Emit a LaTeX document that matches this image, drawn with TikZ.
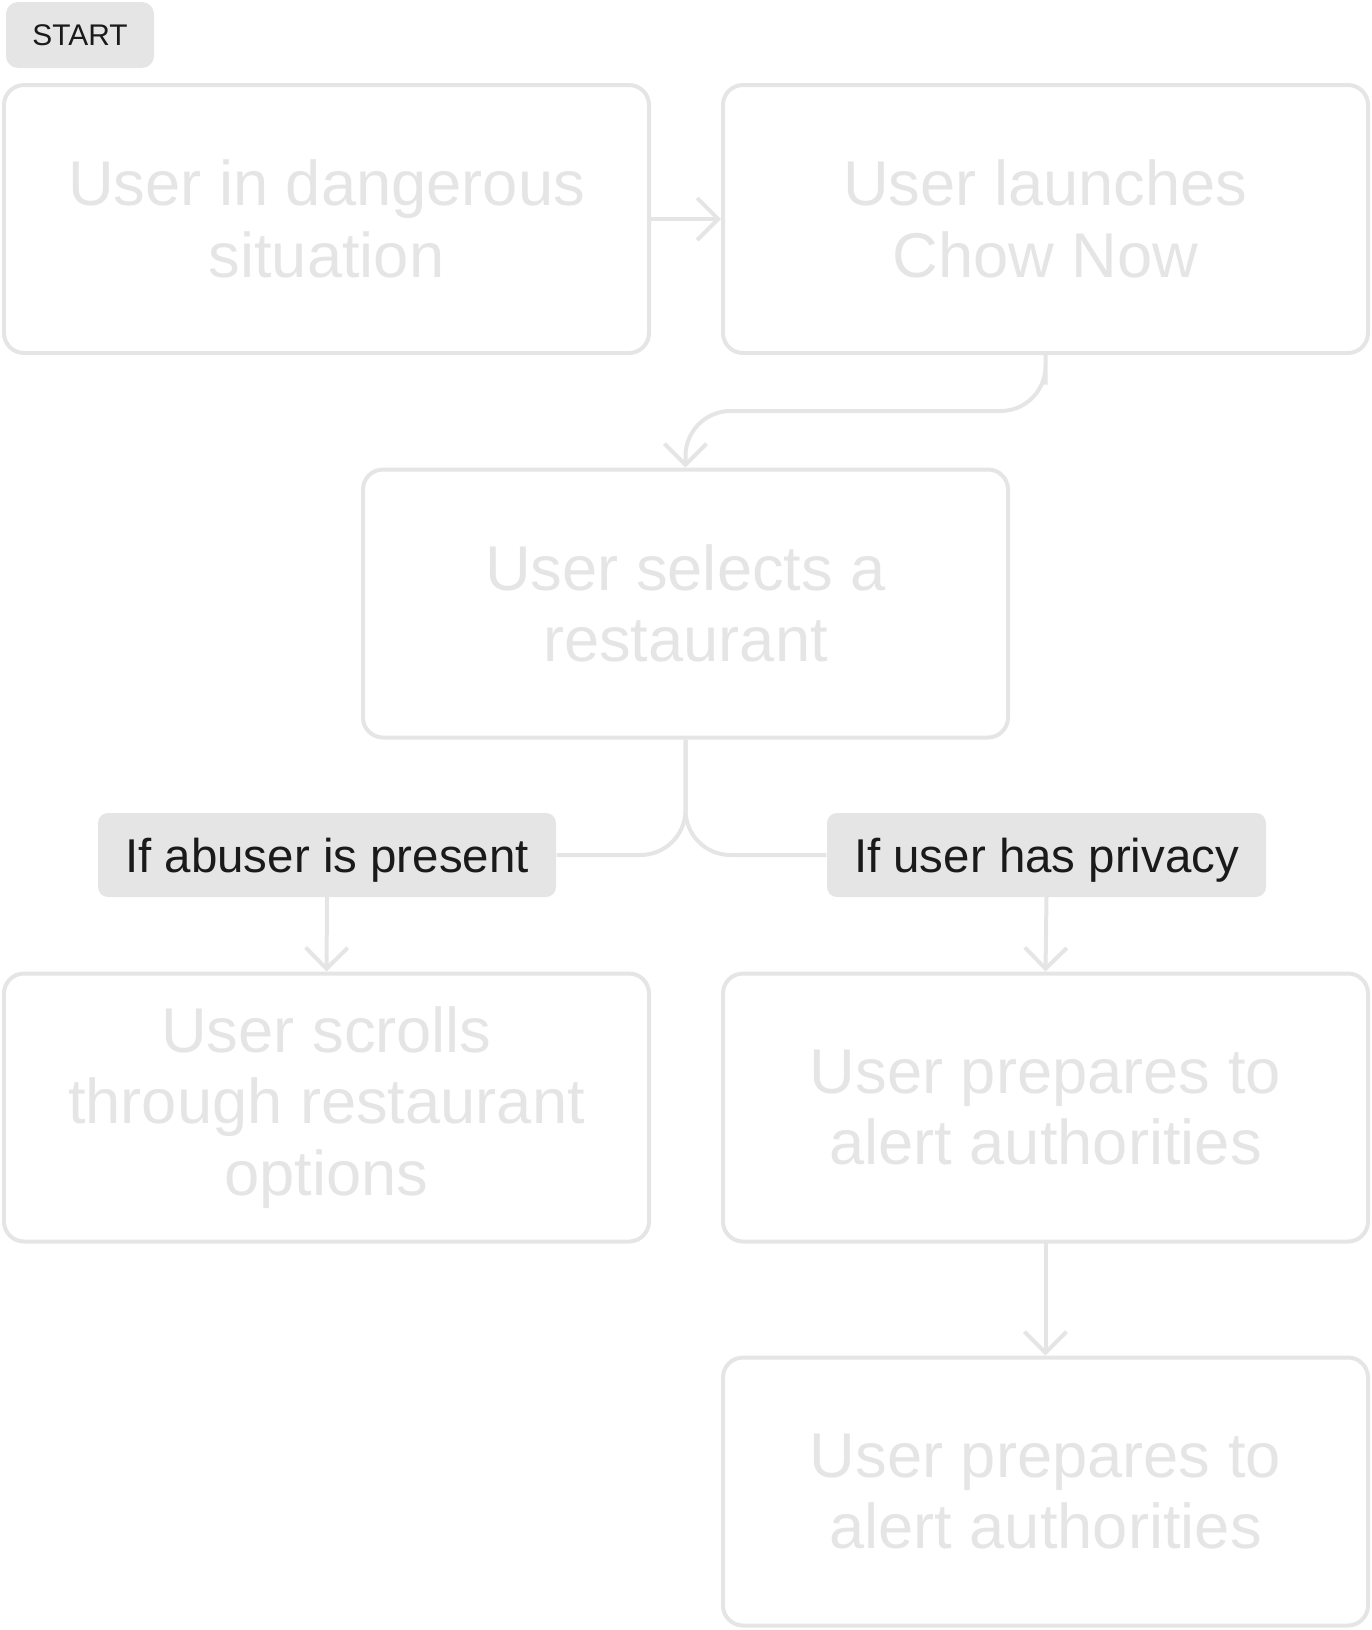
\documentclass[tikz,border=0pt]{standalone}
\usepackage{fontspec}
\setmainfont{Liberation Sans}
\usetikzlibrary{arrows.meta}
\definecolor{faint}{RGB}{229,229,229}
\definecolor{ink}{RGB}{26,26,26}

\begin{document}
\begin{tikzpicture}[
  box/.style={draw=faint, line width=0.04cm, rounded corners=0.2cm, minimum width=6.45cm, minimum height=2.68cm, align=center, text=faint, font=\fontsize{18}{20.3}\selectfont},
  cond/.style={fill=faint, rounded corners=0.1cm, minimum height=0.84cm, text depth=0pt, text=ink, font=\fontsize{13.5}{16}\selectfont},
  flow/.style={faint, line width=0.04cm, line cap=round, rounded corners=0.45cm, -{Straight Barb[length=0.21cm,width=0.42cm]}},
  link/.style={faint, line width=0.04cm, rounded corners=0.45cm}
]
\useasboundingbox (0,0) rectangle (13.72,-16.30);

\node[fill=faint, rounded corners=0.12cm, minimum width=1.48cm, minimum height=0.66cm, text=ink, font=\fontsize{8.5}{10}\selectfont] (start) at (0.80,-0.35) {START};

% steps
\node[box] (danger)  at (3.265,-2.19)   {User in dangerous\\situation};
\node[box] (launch)  at (10.455,-2.19)  {User launches\\Chow Now};
\node[box] (select)  at (6.855,-6.035)  {User selects a\\restaurant};
\node[box] (scroll)  at (3.265,-11.075) {User scrolls\\through restaurant\\options};
\node[box] (alert)   at (10.455,-11.075){User prepares to\\alert authorities};
\node[box] (alert2)  at (10.455,-14.915){User prepares to\\alert authorities};

% conditions
\node[cond, minimum width=4.58cm] (abuser)  at (3.27,-8.55)  {If abuser is present};
\node[cond, minimum width=4.39cm] (privacy) at (10.465,-8.55) {If user has privacy};

\coordinate (bend) at (10.455,-4.11);
\draw[flow] (danger.east) -- (launch.west);
\draw[flow] (launch.south) |- (bend) -| (select.north);
\draw[link] (select.south) |- (abuser.east);
\draw[link] (select.south) |- (privacy.west);
\draw[flow] (abuser.south) -- (scroll.north);
\draw[flow] (privacy.south) -- (alert.north);
\draw[flow] (alert.south) -- (alert2.north);
\end{tikzpicture}
\end{document}
